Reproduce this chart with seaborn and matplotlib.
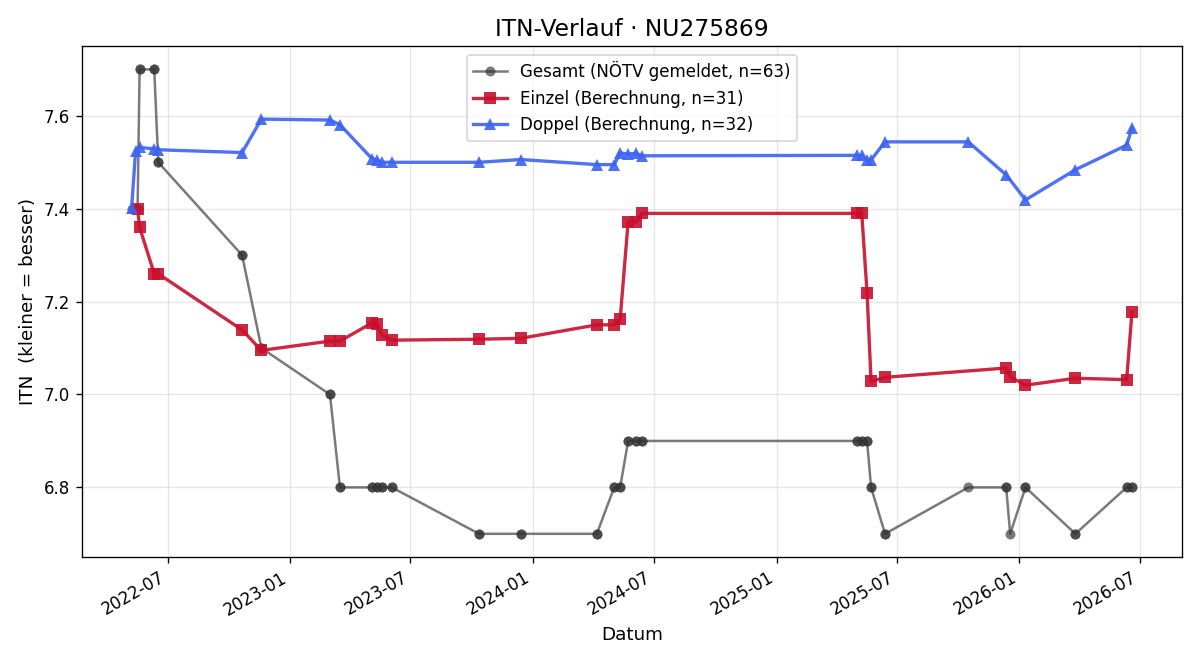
import matplotlib
matplotlib.use("Agg")
import matplotlib.pyplot as plt
import matplotlib.dates as mdates
import pandas as pd
import seaborn as sns

title = "ITN-Verlauf · NU275869"
xlabel = "Datum"
ylabel = "ITN  (kleiner = besser)"

einzel_dates = ["2022-05-17", "2022-05-20", "2022-06-11", "2022-06-17", "2022-10-21",
                "2022-11-19", "2023-03-02", "2023-03-17", "2023-05-04", "2023-05-12",
                "2023-05-19", "2023-06-03", "2023-10-12", "2023-12-14", "2024-04-06",
                "2024-05-02", "2024-05-11", "2024-05-23", "2024-06-04", "2024-06-13",
                "2025-05-02", "2025-05-09", "2025-05-17", "2025-05-23", "2025-06-13",
                "2025-12-12", "2025-12-18", "2026-01-10", "2026-03-26", "2026-06-11",
                "2026-06-19"]
einzel_values = [7.400, 7.360, 7.260, 7.260, 7.139,
                 7.095, 7.115, 7.115, 7.154, 7.151,
                 7.128, 7.117, 7.119, 7.121, 7.150,
                 7.150, 7.162, 7.372, 7.372, 7.390,
                 7.390, 7.390, 7.218, 7.028, 7.037,
                 7.057, 7.038, 7.020, 7.035, 7.032,
                 7.178]

doppel_dates = ["2022-05-08", "2022-05-14", "2022-05-20", "2022-06-11", "2022-06-17",
                "2022-10-21", "2022-11-19", "2023-03-02", "2023-03-17", "2023-05-04",
                "2023-05-12", "2023-05-19", "2023-06-03", "2023-10-12", "2023-12-14",
                "2024-04-06", "2024-05-02", "2024-05-11", "2024-05-23", "2024-06-04",
                "2024-06-13", "2025-05-02", "2025-05-09", "2025-05-17", "2025-05-23",
                "2025-06-13", "2025-10-16", "2025-12-12", "2026-01-10", "2026-03-26",
                "2026-06-11", "2026-06-19"]
doppel_values = [7.402, 7.524, 7.532, 7.529, 7.527,
                 7.521, 7.593, 7.591, 7.581, 7.508,
                 7.505, 7.500, 7.500, 7.500, 7.506,
                 7.495, 7.495, 7.520, 7.518, 7.519,
                 7.514, 7.515, 7.515, 7.505, 7.505,
                 7.544, 7.544, 7.473, 7.419, 7.484,
                 7.537, 7.574]

gesamt_dates = ["2022-05-08", "2022-05-14", "2022-05-17", "2022-05-20", "2022-05-20",
                "2022-06-11", "2022-06-11", "2022-06-17", "2022-06-17", "2022-10-21",
                "2022-10-21", "2022-11-19", "2022-11-19", "2023-03-02", "2023-03-02",
                "2023-03-17", "2023-03-17", "2023-05-04", "2023-05-04", "2023-05-12",
                "2023-05-12", "2023-05-19", "2023-05-19", "2023-06-03", "2023-06-03",
                "2023-10-12", "2023-10-12", "2023-12-14", "2023-12-14", "2024-04-06",
                "2024-04-06", "2024-05-02", "2024-05-02", "2024-05-11", "2024-05-11",
                "2024-05-23", "2024-05-23", "2024-06-04", "2024-06-04", "2024-06-13",
                "2024-06-13", "2025-05-02", "2025-05-02", "2025-05-09", "2025-05-09",
                "2025-05-17", "2025-05-17", "2025-05-23", "2025-05-23", "2025-06-13",
                "2025-06-13", "2025-10-16", "2025-12-12", "2025-12-12", "2025-12-18",
                "2026-01-10", "2026-01-10", "2026-03-26", "2026-03-26", "2026-06-11",
                "2026-06-11", "2026-06-19", "2026-06-19"]
gesamt_values = [7.4, 7.4, 7.4, 7.7, 7.7,
                 7.7, 7.7, 7.5, 7.5, 7.3,
                 7.3, 7.1, 7.1, 7.0, 7.0,
                 6.8, 6.8, 6.8, 6.8, 6.8,
                 6.8, 6.8, 6.8, 6.8, 6.8,
                 6.7, 6.7, 6.7, 6.7, 6.7,
                 6.7, 6.8, 6.8, 6.8, 6.8,
                 6.9, 6.9, 6.9, 6.9, 6.9,
                 6.9, 6.9, 6.9, 6.9, 6.9,
                 6.9, 6.9, 6.8, 6.8, 6.7,
                 6.7, 6.8, 6.8, 6.8, 6.7,
                 6.8, 6.8, 6.7, 6.7, 6.8,
                 6.8, 6.8, 6.8]

labels = ["Gesamt (NÖTV gemeldet, n=63)",
          "Einzel (Berechnung, n=31)",
          "Doppel (Berechnung, n=32)"]

df_g = pd.DataFrame({"Datum": pd.to_datetime(gesamt_dates), "ITN": gesamt_values})
df_e = pd.DataFrame({"Datum": pd.to_datetime(einzel_dates), "ITN": einzel_values})
df_d = pd.DataFrame({"Datum": pd.to_datetime(doppel_dates), "ITN": doppel_values})

fig, ax = plt.subplots(figsize=(10, 5.5), dpi=120)

sns.lineplot(data=df_g, x="Datum", y="ITN", ax=ax, estimator=None, sort=False,
             color="#333333", alpha=0.65, linewidth=1.5, marker="o", markersize=6,
             markeredgewidth=0, label=labels[0])
sns.lineplot(data=df_e, x="Datum", y="ITN", ax=ax, estimator=None, sort=False,
             color="#c8102e", alpha=0.9, linewidth=2, marker="s", markersize=7,
             markeredgewidth=0, label=labels[1])
sns.lineplot(data=df_d, x="Datum", y="ITN", ax=ax, estimator=None, sort=False,
             color="#3d63f0", alpha=0.9, linewidth=2, marker="^", markersize=7,
             markeredgewidth=0, label=labels[2])

ax.set_title(title, fontsize=14)
ax.set_xlabel(xlabel, fontsize=11)
ax.set_ylabel(ylabel, fontsize=11)
ax.xaxis.set_major_locator(mdates.MonthLocator(bymonth=[1, 7]))
ax.xaxis.set_major_formatter(mdates.DateFormatter("%Y-%m"))
ax.grid(True, alpha=0.3)
ax.legend(loc="upper center", fontsize=10)
fig.autofmt_xdate()
fig.subplots_adjust(left=0.068, right=0.985, top=0.930, bottom=0.156)
fig.savefig("out.png", dpi=120)
